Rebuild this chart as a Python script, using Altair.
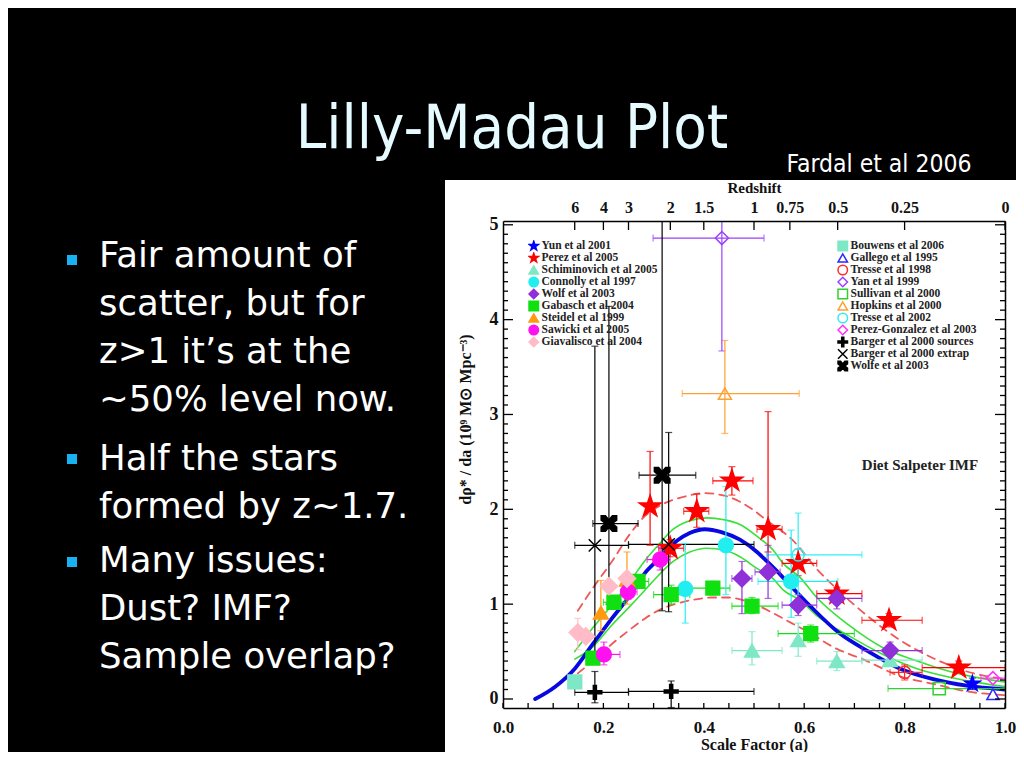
import altair as alt
import pandas as pd

# ---------------------------------------------------------------
# Curves: scale factor a  ->  d rho* / da
# ---------------------------------------------------------------
fit_a = [0.064, 0.104, 0.143, 0.179, 0.217, 0.257, 0.283, 0.309, 0.347, 0.372, 0.402,
         0.435, 0.472, 0.506, 0.526, 0.558, 0.572, 0.612, 0.671, 0.725, 0.791, 0.857, 0.924, 1.0]
fit_y = [0.0, 0.13, 0.32, 0.58, 0.85, 1.12, 1.33, 1.47, 1.67, 1.75, 1.79,
         1.76, 1.68, 1.55, 1.45, 1.28, 1.20, 0.98, 0.69, 0.51, 0.32, 0.21, 0.14, 0.10]

green_hi_a = [0.143, 0.179, 0.217, 0.257, 0.283, 0.309, 0.339, 0.372, 0.406, 0.44, 0.472,
              0.505, 0.538, 0.558, 0.592, 0.625, 0.691, 0.757, 0.825, 0.89, 0.95, 1.0]
green_hi_y = [0.50, 0.75, 0.99, 1.27, 1.46, 1.62, 1.79, 1.88, 1.91, 1.89, 1.84,
              1.72, 1.57, 1.43, 1.28, 1.07, 0.77, 0.54, 0.40, 0.29, 0.22, 0.18]
green_lo_a = [0.143, 0.179, 0.217, 0.257, 0.283, 0.309, 0.339, 0.372, 0.406, 0.44, 0.472,
              0.505, 0.538, 0.558, 0.592, 0.625, 0.691, 0.757, 0.825, 0.89, 0.95, 1.0]
green_lo_y = [0.42, 0.55, 0.78, 1.00, 1.15, 1.30, 1.45, 1.55, 1.59, 1.57, 1.50,
              1.38, 1.27, 1.15, 1.04, 0.88, 0.66, 0.47, 0.32, 0.23, 0.17, 0.13]

red_hi_a = [0.149, 0.183, 0.217, 0.253, 0.283, 0.313, 0.345, 0.366, 0.40, 0.436, 0.472,
            0.502, 0.526, 0.578, 0.625, 0.665, 0.725, 0.791, 0.857, 0.924, 1.0]
red_hi_y = [0.93, 1.20, 1.45, 1.74, 1.93, 2.04, 2.11, 2.14, 2.17, 2.15, 2.08,
            1.98, 1.88, 1.67, 1.37, 1.16, 0.88, 0.62, 0.43, 0.29, 0.21]
red_lo_a = [0.149, 0.183, 0.217, 0.25, 0.283, 0.316, 0.349, 0.383, 0.416, 0.45, 0.48,
            0.51, 0.54, 0.575, 0.61, 0.657, 0.725, 0.791, 0.857, 0.924, 1.0]
red_lo_y = [0.27, 0.42, 0.58, 0.72, 0.85, 0.95, 1.01, 1.05, 1.07, 1.07, 1.04,
            0.98, 0.90, 0.80, 0.70, 0.55, 0.40, 0.24, 0.16, 0.08, 0.04]

# axis labels / tick positions
redshift_ticks = [6, 4, 3, 2, 1.5, 1, 0.75, 0.5, 0.25, 0]
scale_factor_ticks = [0.0, 0.05, 0.1, 0.15, 0.2, 0.25, 0.3, 0.35, 0.4, 0.45, 0.5,
                      0.55, 0.6, 0.65, 0.7, 0.75, 0.8, 0.85, 0.9, 0.95, 1.0]
rho_ticks = [0, 1, 2, 3, 4, 5]

# ---------------------------------------------------------------
# Data points: (a, value, a_lo, a_hi, value_lo, value_hi)
# ---------------------------------------------------------------
yun_2001 = [(0.935, 0.16, None, None, 0.1, 0.22)]
perez_2005 = [(0.293, 2.03, None, None, 1.62, 2.61),
              (0.333, 1.59, 0.31, 0.36, 1.50, 1.68),
              (0.386, 1.98, 0.36, 0.41, 1.81, 2.16),
              (0.456, 2.30, 0.418, 0.498, 2.15, 2.45),
              (0.528, 1.79, 0.506, 0.556, 1.55, 3.03),
              (0.588, 1.43, 0.556, 0.625, 1.30, 1.58),
              (0.665, 1.11, 0.625, 0.715, 1.04, 1.18),
              (0.769, 0.83, 0.715, 0.835, 0.76, 0.90),
              (0.908, 0.33, 0.835, 1.0, 0.28, 0.40)]
schiminovich_2005 = [(0.496, 0.51, 0.456, 0.556, 0.36, 0.71),
                     (0.588, 0.62, None, None, 0.45, 0.80),
                     (0.665, 0.40, 0.625, 0.715, 0.30, 0.50),
                     (0.771, 0.41, 0.715, 0.835, None, None)]
connolly_1997 = [(0.363, 1.16, None, None, 0.80, 1.64),
                 (0.444, 1.62, None, None, 1.10, 2.24),
                 (0.574, 1.24, 0.508, 0.667, 0.86, 1.78)]
wolf_2003 = [(0.476, 1.27, 0.456, 0.496, 0.90, 1.45),
             (0.528, 1.34, 0.502, 0.552, 1.06, 1.62),
             (0.588, 0.99, 0.556, 0.625, 0.88, 1.10),
             (0.665, 1.06, 0.625, 0.715, 0.95, 1.17),
             (0.771, 0.51, 0.715, 0.835, 0.42, 0.60)]
gabasch_2004 = [(0.179, 0.43, 0.17, 0.19, 0.38, 0.50),
                (0.221, 1.02, 0.20, 0.243, 0.96, 1.08),
                (0.269, 1.24, 0.25, 0.29, 1.18, 1.30),
                (0.335, 1.10, 0.30, 0.372, 1.00, 1.20),
                (0.418, 1.17, 0.372, 0.452, 1.10, 1.24),
                (0.496, 0.98, 0.456, 0.548, 0.90, 1.07),
                (0.613, 0.69, 0.548, 0.70, 0.60, 0.78)]
steidel_1999 = [(0.195, 0.91, None, None, 0.72, 1.25),
                (0.247, 1.26, None, None, 1.00, 1.55)]
sawicki_2005 = [(0.201, 0.47, 0.187, 0.233, 0.36, 0.60),
                (0.249, 1.13, 0.237, 0.267, 1.05, 1.25),
                (0.313, 1.47, 0.287, 0.333, 1.36, 1.60)]
giavalisco_2004 = [(0.149, 0.70, None, None, 0.52, 0.85),
                   (0.165, 0.66, None, None, None, None),
                   (0.211, 1.19, None, None, None, None),
                   (0.247, 1.27, None, None, None, None)]
bouwens_2006 = [(0.143, 0.18, None, None, None, None)]
gallego_1995 = [(0.976, 0.05, None, None, None, None)]
tresse_1998 = [(0.80, 0.28, 0.771, 0.835, 0.2, 0.36)]
yan_1999 = [(0.436, 4.86, 0.299, 0.52, 3.67, 6.0)]
sullivan_2000 = [(0.869, 0.11, 0.767, 1.0, None, None)]
hopkins_2000 = [(0.442, 3.22, 0.357, 0.59, 2.80, 3.78)]
tresse_2002 = [(0.588, 1.52, 0.525, 0.715, 1.10, 1.96)]
perez_gonzalez_2003 = [(0.976, 0.22, 0.952, 1.0, None, None)]
barger_2000_sources = [(0.183, 0.07, 0.143, 0.25, -0.04, 0.29),
                       (0.335, 0.08, 0.25, 0.50, -0.09, 0.19)]
barger_2000_extrap = [(0.183, 1.62, 0.143, 0.25, 0.45, 3.72),
                      (0.330, 1.63, 0.25, 0.50, 0.92, 2.81)]
wolfe_2003 = [(0.211, 1.85, 0.179, 0.269, 1.00, 4.14),
              (0.317, 2.36, 0.271, 0.384, 0.93, 6.0)]

series_left = ["Yun et al 2001", "Perez et al 2005", "Schiminovich et al 2005",
               "Connolly et al 1997", "Wolf et al 2003", "Gabasch et al 2004",
               "Steidel et al 1999", "Sawicki et al 2005", "Giavalisco et al 2004"]
series_right = ["Bouwens et al 2006", "Gallego et al 1995", "Tresse et al 1998",
                "Yan et al 1999", "Sullivan et al 2000", "Hopkins et al 2000",
                "Tresse et al 2002", "Perez-Gonzalez et al 2003",
                "Barger et al 2000 sources", "Barger et al 2000 extrap", "Wolfe et al 2003"]
series_points = [yun_2001, perez_2005, schiminovich_2005, connolly_1997, wolf_2003,
                 gabasch_2004, steidel_1999, sawicki_2005, giavalisco_2004,
                 bouwens_2006, gallego_1995, tresse_1998, yan_1999, sullivan_2000,
                 hopkins_2000, tresse_2002, perez_gonzalez_2003, barger_2000_sources,
                 barger_2000_extrap, wolfe_2003]

# ---------------------------------------------------------------
# Styles: shape, fill, stroke, marker size in the plot
# ---------------------------------------------------------------
STAR = ("M0,-1L0.2245,-0.309L0.9511,-0.309L0.3633,0.118L0.5878,0.809L0,0.382"
        "L-0.5878,0.809L-0.3633,0.118L-0.9511,-0.309L-0.2245,-0.309Z")
PLUS = "M-1,-0.22H-0.22V-1H0.22V-0.22H1V0.22H0.22V1H-0.22V0.22H-1Z"
XMARK = "M-1,-1L1,1M-1,1L1,-1"
XBOX = ("M-1,-1H-0.45L0,-0.45L0.45,-1H1V-0.45L0.45,0L1,0.45V1H0.45L0,0.45"
        "L-0.45,1H-1V0.45L-0.45,0L-1,-0.45Z")
T = "transparent"
style = {
    "Yun et al 2001": (STAR, "#0000ff", "#0000ff", 260),
    "Perez et al 2005": (STAR, "#ff0000", "#ff0000", 520),
    "Schiminovich et al 2005": ("triangle-up", "#7ee8c6", "#7ee8c6", 220),
    "Connolly et al 1997": ("circle", "#22eef0", "#22eef0", 220),
    "Wolf et al 2003": ("diamond", "#9030d8", "#9030d8", 290),
    "Gabasch et al 2004": ("square", "#10e010", "#10e010", 190),
    "Steidel et al 1999": ("triangle-up", "#ff9a10", "#ff9a10", 220),
    "Sawicki et al 2005": ("circle", "#ff10f0", "#ff10f0", 220),
    "Giavalisco et al 2004": ("diamond", "#ffbcc8", "#ffbcc8", 300),
    "Bouwens et al 2006": ("square", "#7ee8c6", "#7ee8c6", 190),
    "Gallego et al 1995": ("triangle-up", T, "#2a2aff", 150),
    "Tresse et al 1998": ("circle", T, "#ff2a2a", 150),
    "Yan et al 1999": ("diamond", T, "#9a40ff", 170),
    "Sullivan et al 2000": ("square", T, "#30d030", 150),
    "Hopkins et al 2000": ("triangle-up", T, "#ffa030", 170),
    "Tresse et al 2002": ("circle", T, "#30eef0", 150),
    "Perez-Gonzalez et al 2003": ("diamond", T, "#ff30ff", 170),
    "Barger et al 2000 sources": (PLUS, "#000000", "#000000", 190),
    "Barger et al 2000 extrap": (XMARK, T, "#000000", 150),
    "Wolfe et al 2003": (XBOX, "#000000", "#000000", 240),
}

rows = []
for name, pts in zip(series_left + series_right, series_points):
    for a, v, alo, ahi, vlo, vhi in pts:
        rows.append(dict(series=name, a=a, y=v, a_lo=alo, a_hi=ahi, y_lo=vlo, y_hi=vhi))
df = pd.DataFrame(rows)

SERIF = "Liberation Serif"
W, H = 502, 487
xs = alt.Scale(domain=[0, 1], nice=False, zero=False)
ys = alt.Scale(domain=[-0.095, 5.04], nice=False, zero=False)
all_names = series_left + series_right
color_scale = alt.Scale(domain=all_names, range=[style[n][2] for n in all_names])

one = pd.DataFrame({"k": [0]})

# white panel behind the plot
panel = alt.Chart(one).mark_rect(color="white").encode(
    x=alt.value(-58), x2=alt.value(530), y=alt.value(-41), y2=alt.value(545))


def curve(a, v, color, width, dash=None):
    mk = dict(color=color, strokeWidth=width, interpolate="monotone", clip=True,
              strokeCap="round")
    if dash:
        mk["strokeDash"] = dash
    return alt.Chart(pd.DataFrame({"a": a, "y": v})).mark_line(**mk).encode(
        x=alt.X("a:Q", scale=xs, axis=None),
        y=alt.Y("y:Q", scale=ys, axis=None))


curves = [
    curve(red_hi_a, red_hi_y, "#f05858", 1.8, [8, 6]),
    curve(red_lo_a, red_lo_y, "#f05858", 1.8, [8, 6]),
    curve(green_hi_a, green_hi_y, "#38e038", 1.6),
    curve(green_lo_a, green_lo_y, "#38e038", 1.6),
    curve(fit_a, fit_y, "#0808e0", 3.8),
]

xerr = alt.Chart(df.dropna(subset=["a_lo"])).mark_errorbar(
    ticks={"size": 7}, thickness=1.2, clip=True).encode(
    x=alt.X("a_lo:Q", scale=xs, axis=None), x2="a_hi:Q",
    y=alt.Y("y:Q", scale=ys, axis=None),
    color=alt.Color("series:N", scale=color_scale, legend=None))
yerr = alt.Chart(df.dropna(subset=["y_lo"])).mark_errorbar(
    ticks={"size": 7}, thickness=1.2, clip=True).encode(
    y=alt.Y("y_lo:Q", scale=ys, axis=None), y2="y_hi:Q",
    x=alt.X("a:Q", scale=xs, axis=None),
    color=alt.Color("series:N", scale=color_scale, legend=None))


def scale_for(names, k):
    return alt.Scale(domain=names, range=[style[n][k] for n in names])


# plotted markers (no legend)
size_cond = [{"test": "datum.series === '%s'" % n, "value": style[n][3]} for n in all_names]
pts = alt.Chart(df).mark_point(opacity=1, strokeWidth=1.5).encode(
    x=alt.X("a:Q", scale=xs, axis=None),
    y=alt.Y("y:Q", scale=ys, axis=None),
    fill=alt.Fill("series:N", scale=scale_for(all_names, 1), legend=None),
    stroke=alt.Stroke("series:N", scale=scale_for(all_names, 2), legend=None),
    shape=alt.Shape("series:N", scale=scale_for(all_names, 0), legend=None),
    size=alt.value(150, condition=size_cond))


# the two in-plot legends (legend-only layers, no marks drawn)
def legend_layer(names, lx):
    lg = alt.Legend(orient="none", legendX=lx, legendY=19, title=None, padding=0,
                    labelFont=SERIF, labelFontWeight="bold", labelFontSize=11.5,
                    labelColor="#222222", symbolSize=90, rowPadding=0, clipHeight=12,
                    labelLimit=400, labelOffset=2, symbolStrokeWidth=1.5)
    empty = pd.DataFrame({"series": pd.Series([], dtype=str),
                          "a": pd.Series([], dtype=float),
                          "y": pd.Series([], dtype=float)})
    return alt.Chart(empty).mark_point(opacity=1, strokeWidth=1.5, size=90).encode(
        x=alt.X("a:Q", scale=xs, axis=None),
        y=alt.Y("y:Q", scale=ys, axis=None),
        fill=alt.Fill("series:N", scale=scale_for(names, 1), legend=lg),
        stroke=alt.Stroke("series:N", scale=scale_for(names, 2), legend=lg),
        shape=alt.Shape("series:N", scale=scale_for(names, 0), legend=lg))


leg_left = legend_layer(series_left, 25)
leg_right = legend_layer(series_right, 334)

# ---------------------------------------------------------------
# Axes (labels + frame) and inward tick marks
# ---------------------------------------------------------------
common = dict(grid=False, zindex=1, labelFlush=False, labelOverlap=False, ticks=False,
              domain=True, domainColor="black", domainWidth=1.5,
              labelColor="#111111", labelFont=SERIF, labelFontWeight="bold",
              titleFont=SERIF, titleFontWeight="bold", titleColor="#111111")
minor_y = [round(i * 0.1, 1) for i in range(51) if i % 10 != 0]
redshift_pos = [1.0 / (1.0 + z) for z in redshift_ticks]

ax_bottom = alt.Axis(orient="bottom", values=scale_factor_ticks, labelPadding=11,
                     labelFontSize=17,
                     labelExpr="abs(datum.value*5 - round(datum.value*5)) < 0.001 ? format(datum.value, '.1f') : ''",
                     title="Scale Factor (a)", titleFontSize=16, titlePadding=1, **common)
ax_top = alt.Axis(orient="top", values=redshift_pos, labelPadding=6, labelFontSize=16,
                  labelExpr="format(1/datum.value - 1, '.3~g')",
                  title="Redshift", titleFontSize=15, titlePadding=4, **common)
ax_left = alt.Axis(orient="left", values=rho_ticks, labelPadding=5, labelFontSize=18,
                   format="d", title="dρ* / da  (10⁹ M⊙ Mpc⁻³)", titleFontSize=16,
                   titlePadding=16, titleY=198, **common)
ax_right = alt.Axis(orient="right", values=rho_ticks, labels=False, title=None, **common)

axis_df = pd.DataFrame({"a": [0.5], "y": [1.0]})


def axis_layer(xa, ya):
    return alt.Chart(axis_df).mark_point(opacity=0).encode(
        x=alt.X("a:Q", scale=xs, axis=xa),
        y=alt.Y("y:Q", scale=ys, axis=ya))


axes = [axis_layer(ax_bottom, ax_left), axis_layer(ax_top, ax_right)]


def xticks(vals, y0, y1):
    return alt.Chart(pd.DataFrame({"v": vals})).mark_rule(color="black", strokeWidth=1.3).encode(
        x=alt.X("v:Q", scale=xs, axis=None), y=alt.value(y0), y2=alt.value(y1))


def yticks(vals, x0, x1):
    return alt.Chart(pd.DataFrame({"v": vals})).mark_rule(color="black", strokeWidth=1.3).encode(
        y=alt.Y("v:Q", scale=ys, axis=None), x=alt.value(x0), x2=alt.value(x1))


tick_marks = [
    xticks(scale_factor_ticks, H, H - 5),
    xticks(redshift_pos, 0, 9),
    yticks(rho_ticks, 0, 10), yticks(minor_y, 0, 5),
    yticks(rho_ticks, W, W - 10), yticks(minor_y, W, W - 5),
]

# ---------------------------------------------------------------
# Slide text
# ---------------------------------------------------------------
def text(x, y, t, **kw):
    return alt.Chart(one).mark_text(**kw).encode(
        x=alt.value(x), y=alt.value(y), text=alt.value(t))


bullet_kw = dict(font="DejaVu Sans", fontSize=35.5, color="white", align="left",
                 baseline="alphabetic", lineHeight=48)
texts = [
    text(9, -73, "Lilly-Madau Plot", font="DejaVu Sans Condensed", fontSize=61,
         color="#e6fbff", align="center", baseline="alphabetic"),
    text(376, -49, "Fardal et al 2006", font="DejaVu Sans Condensed", fontSize=24.5,
         color="white", align="center", baseline="alphabetic"),
    text(417, 249, "Diet Salpeter IMF", font=SERIF, fontWeight="bold", fontSize=15,
         color="#222222", align="center", baseline="alphabetic"),
    text(-404, 46, ["Fair amount of", "scatter, but for", "z>1 it’s at the",
                    "~50% level now."], **bullet_kw),
    text(-404, 249, ["Half the stars", "formed by z~1.7."], **bullet_kw),
    text(-404, 351, ["Many issues:", "Dust? IMF?", "Sample overlap?"], **bullet_kw),
]
bullet_marks = [alt.Chart(one).mark_square(size=100, color="#18b2f2", opacity=1).encode(
    x=alt.value(-431), y=alt.value(by)) for by in (39, 238, 341)]

chart = alt.layer(
    panel, *curves, xerr, yerr, pts, leg_left, leg_right, *tick_marks, *axes,
    *texts, *bullet_marks
).resolve_axis(
    x="independent", y="independent"
).resolve_scale(
    shape="independent", fill="independent", stroke="independent"
).properties(
    width=W, height=H,
    padding={"left": 495, "top": 213, "right": 11, "bottom": 44},
    autosize=alt.AutoSizeParams(type="none"),
).configure(background="black").configure_view(stroke="transparent")

chart.save("out.html", embed_options={"renderer": "svg", "actions": False})
